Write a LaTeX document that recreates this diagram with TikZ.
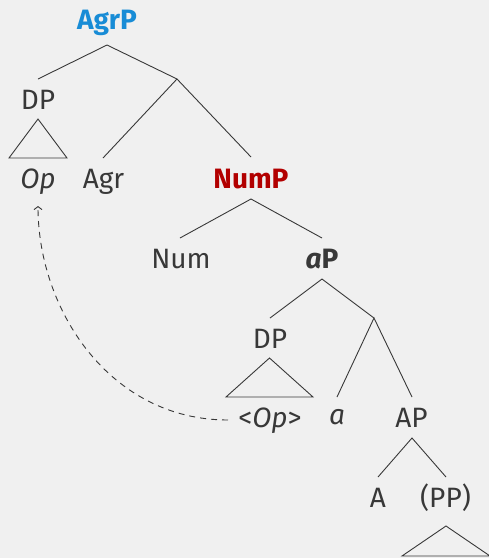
\documentclass[tikz,border=0pt]{standalone}
\usepackage{fontspec}
\setmainfont{Fira Sans}
\usetikzlibrary{arrows.meta}
\definecolor{bg}{RGB}{240,240,240}
\definecolor{ink}{RGB}{56,56,56}
\definecolor{agrblue}{RGB}{24,140,214}
\definecolor{numred}{RGB}{178,0,0}
\begin{document}
\begin{tikzpicture}[x=1pt,y=-1pt,
  lbl/.style={anchor=base,inner sep=0pt,text=ink,font=\fontsize{28}{32}\selectfont},
  branch/.style={draw=ink,line width=0.9pt},
  movearrow/.style={draw=ink,line width=0.9pt,dash pattern=on 6pt off 5pt,-{Straight Barb[length=3pt,width=8pt]}}]
\fill[bg] (0,0) rectangle (489,558);
\useasboundingbox (0,0) rectangle (489,558);
% labels
\node[lbl,text=agrblue,font=\fontsize{28}{32}\selectfont\bfseries] (agrp) at (107,29) {AgrP};
\node[lbl] (dp1) at (38,109) {DP};
\node[lbl] (op) at (38,188) {\itshape Op};
\node[lbl] (agr) at (103.5,188) {Agr};
\node[lbl,text=numred,font=\fontsize{28}{32}\selectfont\bfseries] (nump) at (251,188) {NumP};
\node[lbl] (num) at (181,268) {Num};
\node[lbl,font=\fontsize{28}{32}\selectfont\bfseries] (ap) at (322,268) {\textit{a}P};
\node[lbl] (dp2) at (270,348) {DP};
\node[lbl] (opt) at (270,427) {<\textit{Op}>};
\node[lbl] (a) at (337,424) {\itshape a};
\node[lbl] (capp) at (411.5,427) {AP};
\node[lbl] (caa) at (378,507) {A};
\node[lbl] (pp) at (445.5,507) {(PP)};
% branch points
\coordinate (agrp-b) at (107,45);
\coordinate (agrbar) at (177,79);
\coordinate (dp1-t) at (38,79);
\coordinate (agr-t) at (103,158);
\coordinate (nump-t) at (251,157);
\coordinate (nump-b) at (251,199);
\coordinate (num-t) at (180,238);
\coordinate (ap-t) at (322,238);
\coordinate (ap-b) at (322,279);
\coordinate (dp2-t) at (270,318);
\coordinate (abar) at (374,318);
\coordinate (a-t) at (337,397);
\coordinate (capp-t) at (412,397);
\coordinate (capp-b) at (412,438);
\coordinate (caa-t) at (378,477);
\coordinate (pp-t) at (446,477);
\coordinate (arrow-s) at (228,420);
\coordinate (arrow-e) at (38,206);
% branches
\draw[branch] (dp1-t) -- (agrp-b) -- (agrbar);
\draw[branch] (agr-t) -- (agrbar) -- (nump-t);
\draw[branch] (num-t) -- (nump-b) -- (ap-t);
\draw[branch] (dp2-t) -- (ap-b) -- (abar);
\draw[branch] (a-t) -- (abar) -- (capp-t);
\draw[branch] (caa-t) -- (capp-b) -- (pp-t);
% triangles
\draw[branch,line join=miter] (38,119) -- (9,158) -- (67,158) -- cycle;
\draw[branch,line join=miter] (269.5,358) -- (226,397) -- (313,397) -- cycle;
\draw[branch,line join=miter] (446,526) -- (402,556) -- (490,556) -- cycle;
% movement
\draw[movearrow] (arrow-s) .. controls (110,420) and (38,310) .. (arrow-e);
\end{tikzpicture}
\end{document}
